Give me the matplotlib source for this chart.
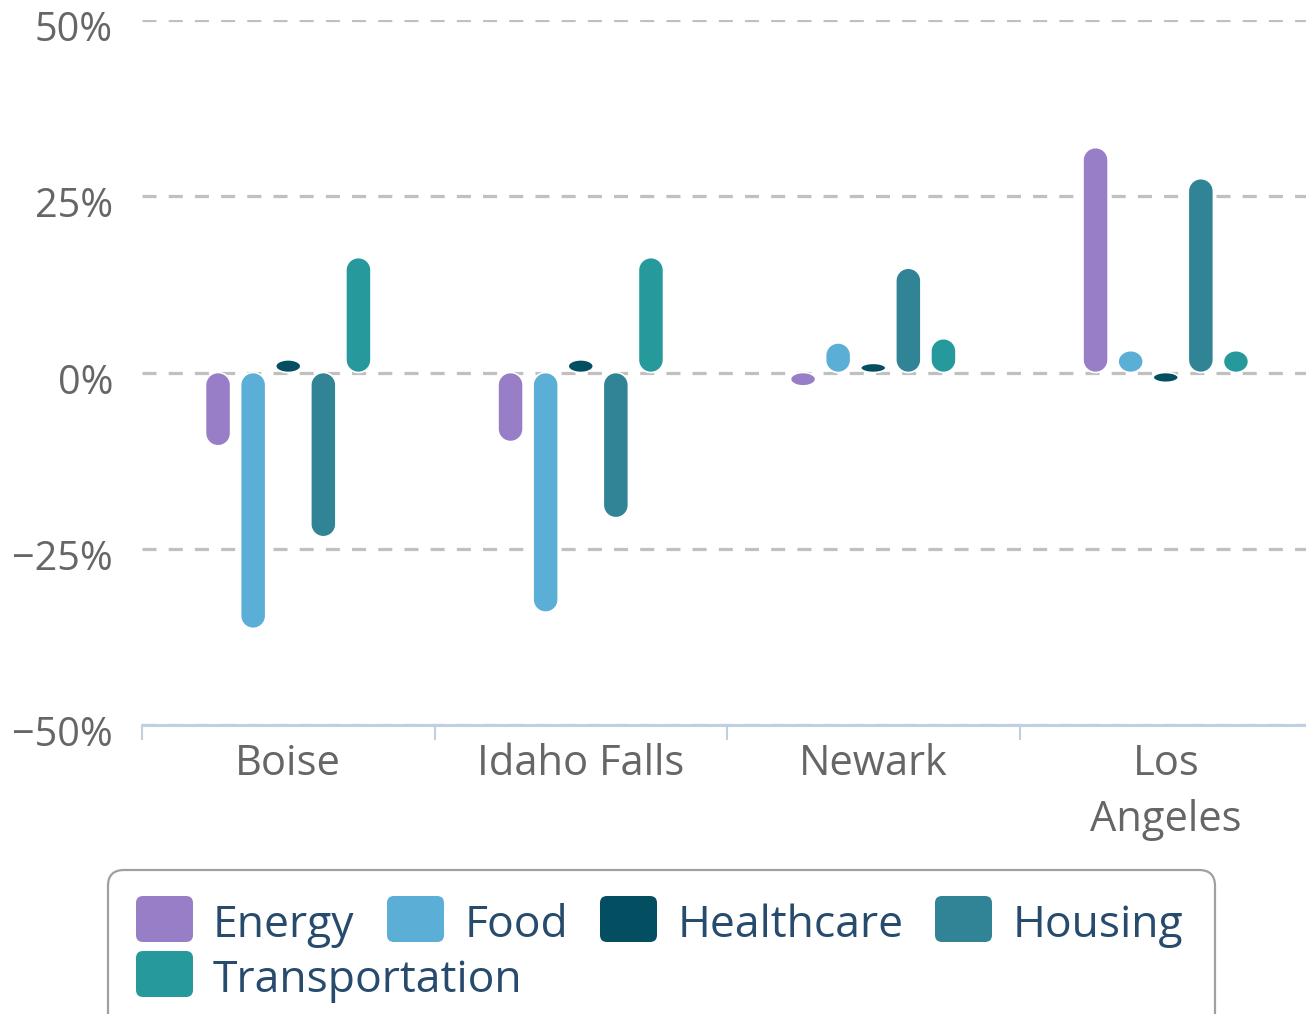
import numpy as np
import matplotlib.pyplot as plt
from matplotlib.patches import Polygon, FancyBboxPatch
from matplotlib.transforms import Affine2D, ScaledTranslation

# data (percent change)
cities = ["Boise", "Idaho Falls", "Newark", "Los\nAngeles"]
series_names = ["Energy", "Food", "Healthcare", "Housing", "Transportation"]
energy = [-10.4, -9.8, -1.9, 31.9]
food = [-36.3, -34.0, 4.2, 3.1]
healthcare = [1.8, 1.8, 1.3, -1.4]
housing = [-23.3, -20.6, 14.8, 27.5]
transportation = [16.3, 16.3, 4.8, 3.1]
y_ticks = [-50, -25, 0, 25, 50]
y_labels = ["\u221250%", "\u221225%", "0%", "25%", "50%"]

colors = ["#977ec7", "#5bafd6", "#034e60", "#318396", "#25999c"]

W, H = 1306, 1014
DPI = 100

plt.rcParams["font.family"] = ["Open Sans", "DejaVu Sans"]

fig = plt.figure(figsize=(W / DPI, H / DPI), dpi=DPI)
ax = fig.add_axes([142 / W, 1 - 725 / H, (1312 - 142) / W, 705 / H])
ax.set_xlim(-0.5, 3.5)
ax.set_ylim(-50, 50)

px_x = 1170 / 4.0   # pixels per category
px_y = 705 / 100.0  # pixels per percent


def capsule(rect):
    # turn a bar rectangle into a pill shape (ellipse when short)
    x0, y0 = rect.get_x(), rect.get_y()
    w, h = rect.get_width(), rect.get_height()
    lo, hi = sorted([y0, y0 + h])
    rx = w / 2
    xc = x0 + rx
    ry = min(w * px_x / 2, (hi - lo) * px_y / 2) / px_y
    t = np.linspace(0, np.pi, 30)
    top = np.column_stack([xc + rx * np.cos(t), hi - ry + ry * np.sin(t)])
    bot = np.column_stack([xc - rx * np.cos(t), lo + ry - ry * np.sin(t)])
    return np.vstack([top, bot])


x = np.arange(len(cities))
step = 0.12
bar_w = 0.086
all_series = [energy, food, healthcare, housing, transportation]
for i, (vals, col) in enumerate(zip(all_series, colors)):
    bars = ax.bar(x + (i - 2) * step, vals, bar_w, color=col)
    for rect in bars:
        rect.set_visible(False)
        ax.add_patch(Polygon(capsule(rect), closed=True, facecolor=col,
                             edgecolor="white", linewidth=1.2, zorder=3))

# grid and axes styling
ax.set_yticks(y_ticks)
ax.yaxis.grid(True, color="#c0c0c0", linewidth=2.3, linestyle=(0, (4.4, 3.8)))
ax.set_axisbelow(True)
ax.tick_params(axis="y", left=False, labelleft=False)
for s in ["top", "right", "left"]:
    ax.spines[s].set_visible(False)
ax.spines["bottom"].set_color("#c0d0e0")
ax.spines["bottom"].set_linewidth(2.2)

ax.set_xticks(x)
ax.set_xticklabels(cities, fontsize=30, color="#666666", linespacing=1.45)
ax.set_xticks(np.arange(-0.5, 3.6, 1.0), minor=True)
ax.tick_params(axis="x", which="major", length=0, pad=13)
ax.tick_params(axis="x", which="minor", length=11, width=1.5, color="#c0d0e0")

# y labels sit slightly below their gridlines
ylab_tf = ax.get_yaxis_transform() + ScaledTranslation(-29 / DPI, -21 / DPI, fig.dpi_scale_trans)
for v, lab in zip(y_ticks, y_labels):
    ax.text(0, v, lab, transform=ylab_tf, ha="right", va="baseline",
            fontsize=28.5, color="#666666")

# legend, laid out in pixel coordinates (top-down)
px = Affine2D().scale(1 / W, -1 / H).translate(0, 1) + fig.transFigure
fig.add_artist(FancyBboxPatch((108, 870), 1107, 170,
                              boxstyle="round,pad=0,rounding_size=16",
                              facecolor="none", edgecolor="#a0a0a0",
                              linewidth=1.6, transform=px))
legend_pos = [(136, 213, 0), (387, 465, 0), (600, 678, 0), (935, 1013, 0), (136, 213, 1)]
for name, col, (mx, tx, row) in zip(series_names, colors, legend_pos):
    top = 896 + row * 55
    fig.add_artist(FancyBboxPatch((mx, top), 57, 46,
                                  boxstyle="round,pad=0,rounding_size=7",
                                  facecolor=col, edgecolor="none", transform=px))
    fig.text(tx, top + 41, name, transform=px, ha="left", va="baseline",
             fontsize=32, color="#274b6d")

fig.savefig("out.png", dpi=DPI)
